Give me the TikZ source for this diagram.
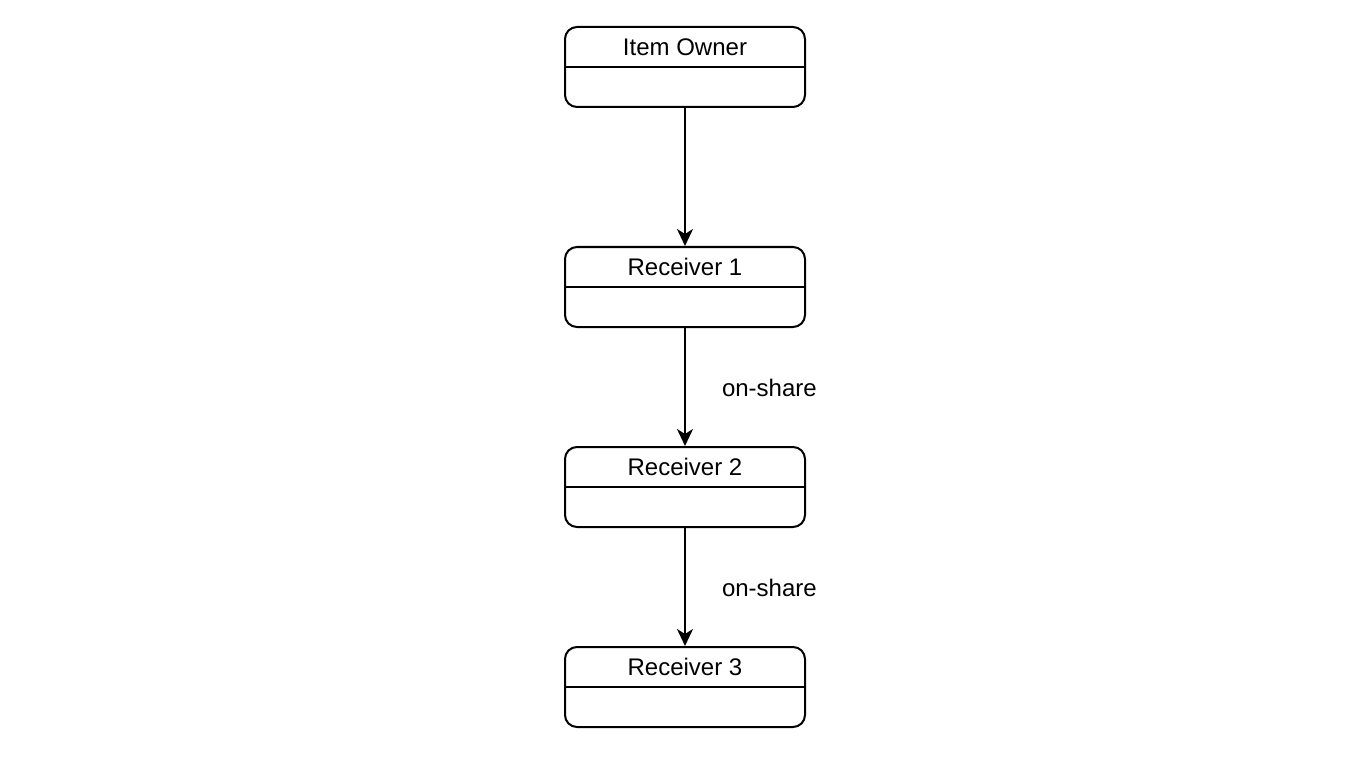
\documentclass[tikz,border=0pt]{standalone}
\usepackage{fontspec}
\setmainfont{Liberation Sans}
\usetikzlibrary{arrows.meta}
\begin{document}
\begin{tikzpicture}[x=1pt,y=-1pt,
  line width=2pt,
  classbox/.style={draw, rounded corners=12pt, minimum width=240pt, minimum height=80pt, inner sep=0pt, line width=2pt},
  lbl/.style={font=\fontsize{24}{28}\selectfont, inner sep=0pt},
  conn/.style={-{Stealth[length=17pt,width=16pt,inset=5pt]}, line width=2pt}]
\useasboundingbox (0,0) rectangle (1360,762);
\foreach \n/\y/\t in {a/67/Item Owner, b/287/Receiver 1, c/487/Receiver 2, d/687/Receiver 3}{
  \node[classbox] (\n) at (685,\y) {};
  \draw (\n.west) -- (\n.east);
  \node[lbl] (\n t) at (685,\y-20) {\t};
}
\draw[conn] (a.south) -- (b.north);
\draw[conn] (b.south) -- (c.north);
\draw[conn] (c.south) -- (d.north);
\node[lbl, anchor=west] (l1) at (721,388) {on-share};
\node[lbl, anchor=west] (l2) at (721,588) {on-share};
\end{tikzpicture}
\end{document}
